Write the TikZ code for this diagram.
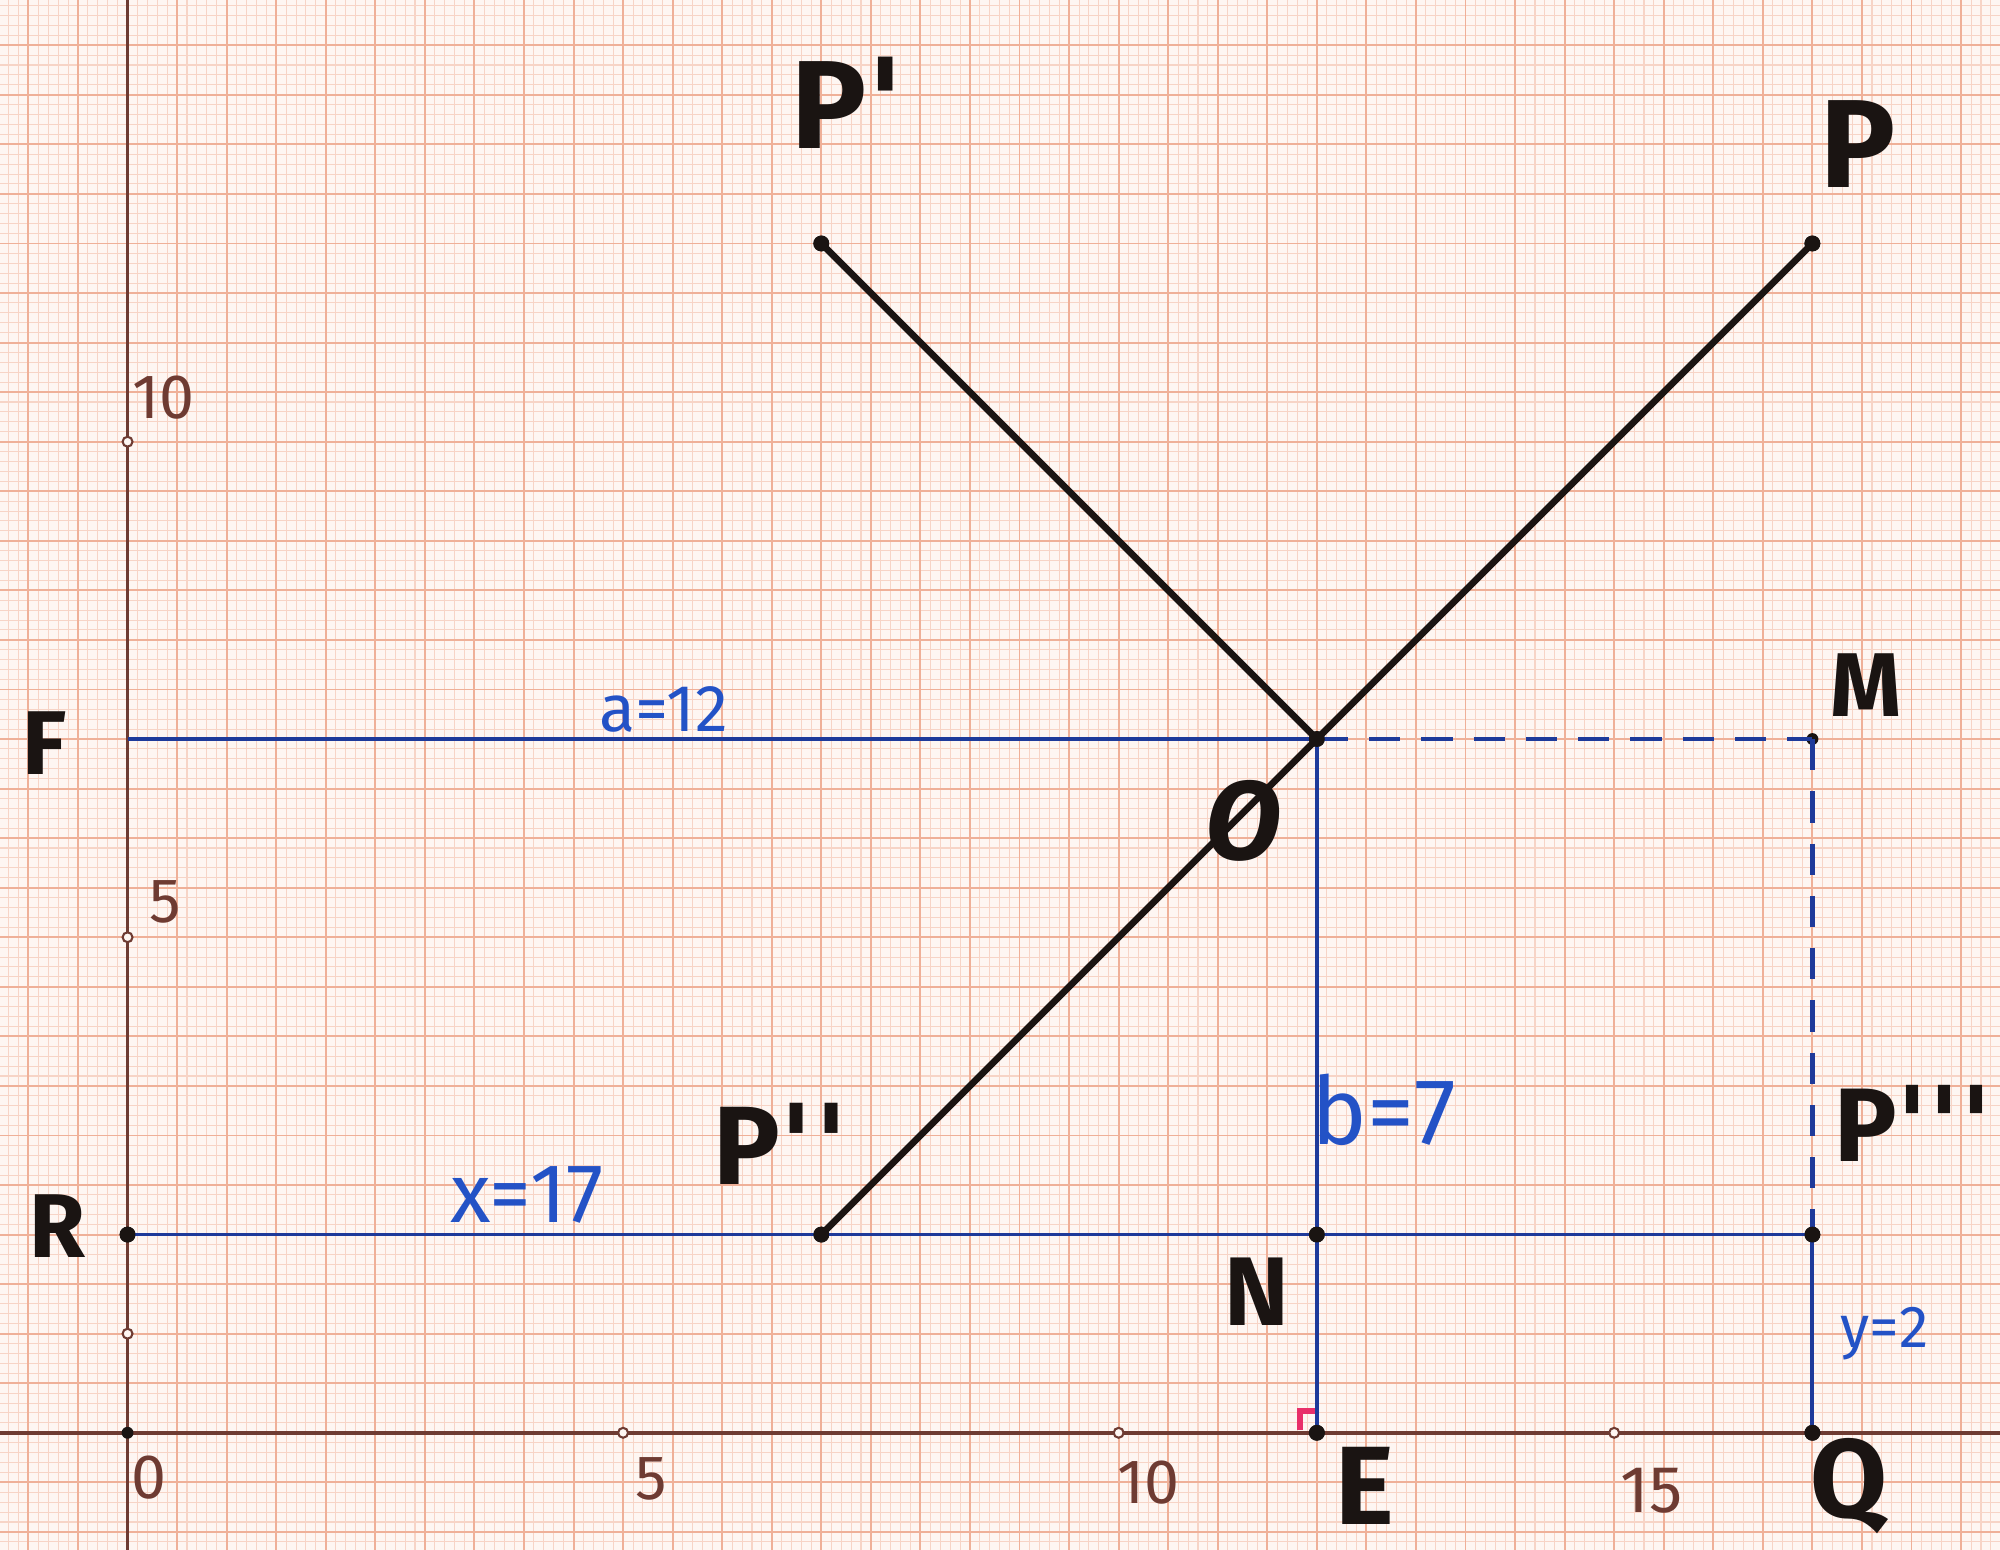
\documentclass[tikz,border=0pt]{standalone}
\usepackage{fontspec}
\setmainfont{Fira Sans}
\newfontfamily\primefont{DejaVu Sans}
\definecolor{paper}{HTML}{FEF6F2}
\definecolor{gridminor}{HTML}{F7D4C6}
\definecolor{gridmajor}{HTML}{EFB098}
\definecolor{axiscol}{HTML}{6E3B32}
\definecolor{ink}{HTML}{1A1412}
\definecolor{blueink}{HTML}{1E3A9A}
\definecolor{bluelabel}{HTML}{2352C6}
\definecolor{marker}{HTML}{E8306A}
\tikzset{
  dot/.style={circle, fill=ink, inner sep=0pt, minimum size=0.16cm},
  tickdot/.style={circle, draw=axiscol, fill=paper, line width=0.6pt, inner sep=0pt, minimum size=0.1cm},
  blackline/.style={ink, line width=1.9pt, line cap=round},
  blueline/.style={blueink, line width=1.1pt},
  bluedash/.style={blueink, line width=1.2pt, dash pattern=on 9pt off 6pt},
  axisline/.style={axiscol, line width=1.1pt},
  biglab/.style={ink, inner sep=0pt, font=\bfseries\fontsize{#1}{#1}\selectfont},
  bluelab/.style={bluelabel, inner sep=0pt, font=\fontsize{#1}{#1}\selectfont},
  numlab/.style={axiscol, inner sep=0pt, font=\fontsize{#1}{#1}\selectfont},
}
\newcommand{\pr}{{\primefont\bfseries\textquotesingle}}
\begin{document}
\begin{tikzpicture}[x=1cm,y=1cm]
\useasboundingbox (-1.287,-1.18) rectangle (18.893,14.457);
\fill[paper] (-1.287,-1.18) rectangle (18.893,14.457);
\begin{scope}
\clip (-1.287,-1.18) rectangle (18.893,14.457);
\draw[gridminor, line width=0.3pt, step=0.1] (-1.4,-1.3) grid (19,14.6);
\draw[gridmajor, line width=0.55pt, step=0.5] (-1.5,-1.5) grid (19,14.6);
\end{scope}
% axes
\draw[axisline] (-1.287,0) -- (18.893,0);
\draw[axisline] (0,-1.18) -- (0,14.457);
% axis tick dots and numbers
\node[tickdot] (x5) at (5,0) {};
\node[tickdot] (x10) at (10,0) {};
\node[tickdot] (x15) at (15,0) {};
\node[tickdot] (y5) at (0,5) {};
\node[tickdot] (y10) at (0,10) {};
\node[tickdot] (y1) at (0,1) {};
\node[numlab=18] (n0) at (0.22,-0.45) {0};
\node[numlab=18] (n5) at (5.28,-0.47) {5};
\node[numlab=18] (n10) at (10.3,-0.5) {10};
\node[numlab=19] (n15) at (15.38,-0.58) {15};
\node[numlab=18] (m10) at (0.36,10.45) {10};
\node[numlab=18] (m5) at (0.38,5.36) {5};
% points
\node[dot] (Pa) at (7,12) {};
\node[dot] (P) at (17,12) {};
\node[dot] (O) at (12,7) {};
\coordinate (F) at (0,7);
\node[dot, minimum size=0.12cm] (M) at (17,7) {};
\node[dot] (R) at (0,2) {};
\node[dot] (Pb) at (7,2) {};
\node[dot] (N) at (12,2) {};
\node[dot] (Pc) at (17,2) {};
\node[dot] (E) at (12,0) {};
\node[dot] (Q) at (17,0) {};
\node[dot, minimum size=0.12cm] (Z) at (0,0) {};
% blue construction lines
\draw[blueline] (F) -- (O.center);
\draw[bluedash] (O.center) -- (M.center);
\draw[bluedash] (M.center) -- (Pc.center);
\draw[blueline] (O.center) -- (E.center);
\draw[blueline] (R.center) -- (Pc.center);
\draw[blueline] (Pc.center) -- (Q.center);
% right-angle marker
\draw[marker, line width=1.6pt] (11.83,0.03) -- (11.83,0.22) -- (11.98,0.22);
% black lines
\draw[blackline] (Pa.center) -- (O.center);
\draw[blackline] (Pb.center) -- (P.center);
% redraw dots on top
\foreach \p in {Pa,P,O,R,Pb,N,Pc,E,Q}{\fill[ink] (\p) circle (0.08cm);}
% labels
\node[biglab=36] (lPa) at (7.27,13.42) {P\pr};
\node[biglab=36] (lP) at (17.46,13.0) {P};
\node[biglab=26] (lF) at (-0.84,6.96) {F};
\node[biglab=26] (lM) at (17.54,7.54) {M};
\node[biglab=30, font=\bfseries\itshape\fontsize{32}{32}\selectfont] (lO) at (11.26,6.17) {O};
\node[biglab=32] (lPb) at (6.59,2.92) {P\pr\pr};
\node[biglab=30] (lPc) at (18.02,3.12) {P\pr\pr\pr};
\node[biglab=26] (lR) at (-0.71,2.09) {R};
\node[biglab=28] (lN) at (11.39,1.42) {N};
\node[biglab=32] (lE) at (12.48,-0.54) {E};
\node[biglab=32] (lQ) at (17.37,-0.54) {Q};
\node[bluelab=19] (la) at (5.41,7.3) {a=12};
\node[bluelab=24] (lx) at (4.03,2.4) {x=17};
\node[bluelab=27] (lb) at (12.68,3.26) {b=7};
\node[bluelab=17] (ly) at (17.73,1.0) {y=2};
\end{tikzpicture}
\end{document}
